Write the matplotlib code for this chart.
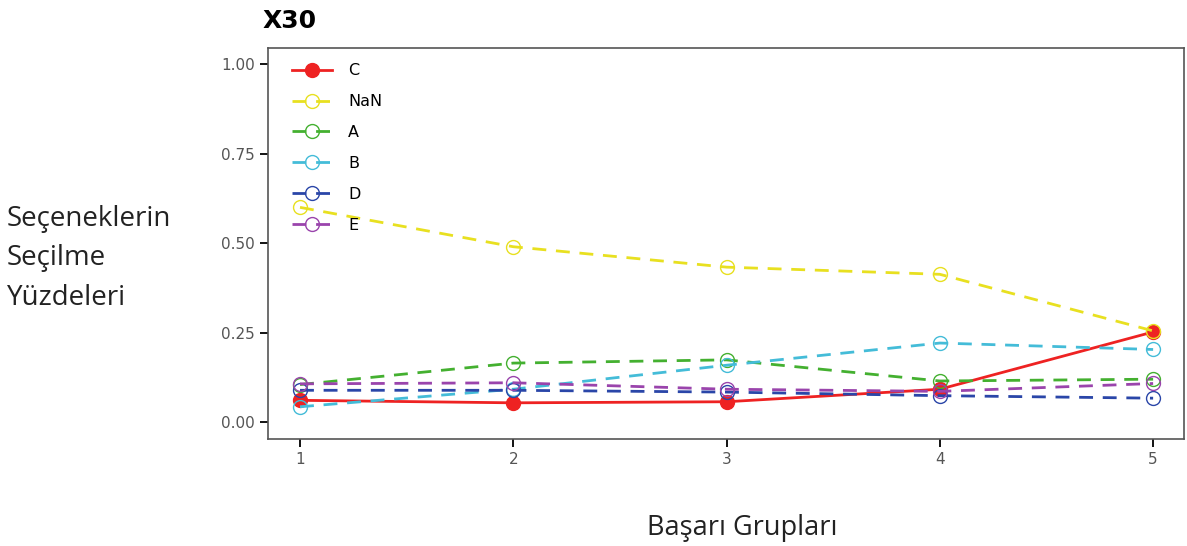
import numpy as np
import matplotlib.pyplot as plt

groups = [1, 2, 3, 4, 5]
C = [0.061, 0.054, 0.057, 0.092, 0.252]
NaN = [0.600, 0.490, 0.433, 0.413, 0.255]
A = [0.105, 0.165, 0.174, 0.115, 0.120]
B = [0.043, 0.092, 0.159, 0.221, 0.203]
D = [0.089, 0.089, 0.084, 0.074, 0.067]
E = [0.107, 0.110, 0.092, 0.086, 0.108]

fig = plt.figure(figsize=(11.87, 5.46), dpi=100)
ax = fig.add_axes([0.2258, 0.196, 0.7717, 0.716])

dash = (5, 3.5)
ax.plot(groups, C, color='#ee2222', linestyle='-', linewidth=2, marker='o',
        markersize=10, label='C')
ax.plot(groups, NaN, color='#e8e020', linestyle='--', dashes=dash, linewidth=2,
        marker='o', markersize=10, markerfacecolor='none', label='NaN')
ax.plot(groups, A, color='#44b030', linestyle='--', dashes=dash, linewidth=2,
        marker='o', markersize=10, markerfacecolor='none', label='A')
ax.plot(groups, B, color='#44bcd8', linestyle='--', dashes=dash, linewidth=2,
        marker='o', markersize=10, markerfacecolor='none', label='B')
ax.plot(groups, D, color='#2a46a8', linestyle='--', dashes=dash, linewidth=2,
        marker='o', markersize=10, markerfacecolor='none', label='D')
ax.plot(groups, E, color='#9a44ac', linestyle='--', dashes=dash, linewidth=2,
        marker='o', markersize=10, markerfacecolor='none', label='E')

ax.set_xlim(0.85, 5.145)
ax.set_ylim(-0.047, 1.045)
ax.set_xticks(groups)
ax.set_yticks([0.0, 0.25, 0.5, 0.75, 1.0])
ax.set_yticklabels(['0.00', '0.25', '0.50', '0.75', '1.00'])
ax.tick_params(labelsize=11, labelcolor='#555555', length=6, width=1.3)
for s in ax.spines.values():
    s.set_color('#555555')
    s.set_linewidth(1.2)

ax.legend(loc='upper left', bbox_to_anchor=(0.014, 0.99), frameon=False,
          fontsize=11.5, handlelength=2.5, handletextpad=1.0, labelspacing=1.0,
          borderaxespad=0.3)

fig.text(0.221, 0.962, 'X30', fontsize=18, fontweight='bold', ha='left', va='center')
fig.text(0.006, 0.527, 'Seçeneklerin\nSeçilme\nYüzdeleri', fontsize=20,
         family='Open Sans', ha='left', va='center', linespacing=1.55, color='#222222')
fig.text(0.625, 0.033, 'Başarı Grupları', fontsize=19.5, family='Open Sans',
         ha='center', va='center', color='#222222')

fig.savefig('out.png', dpi=100)
